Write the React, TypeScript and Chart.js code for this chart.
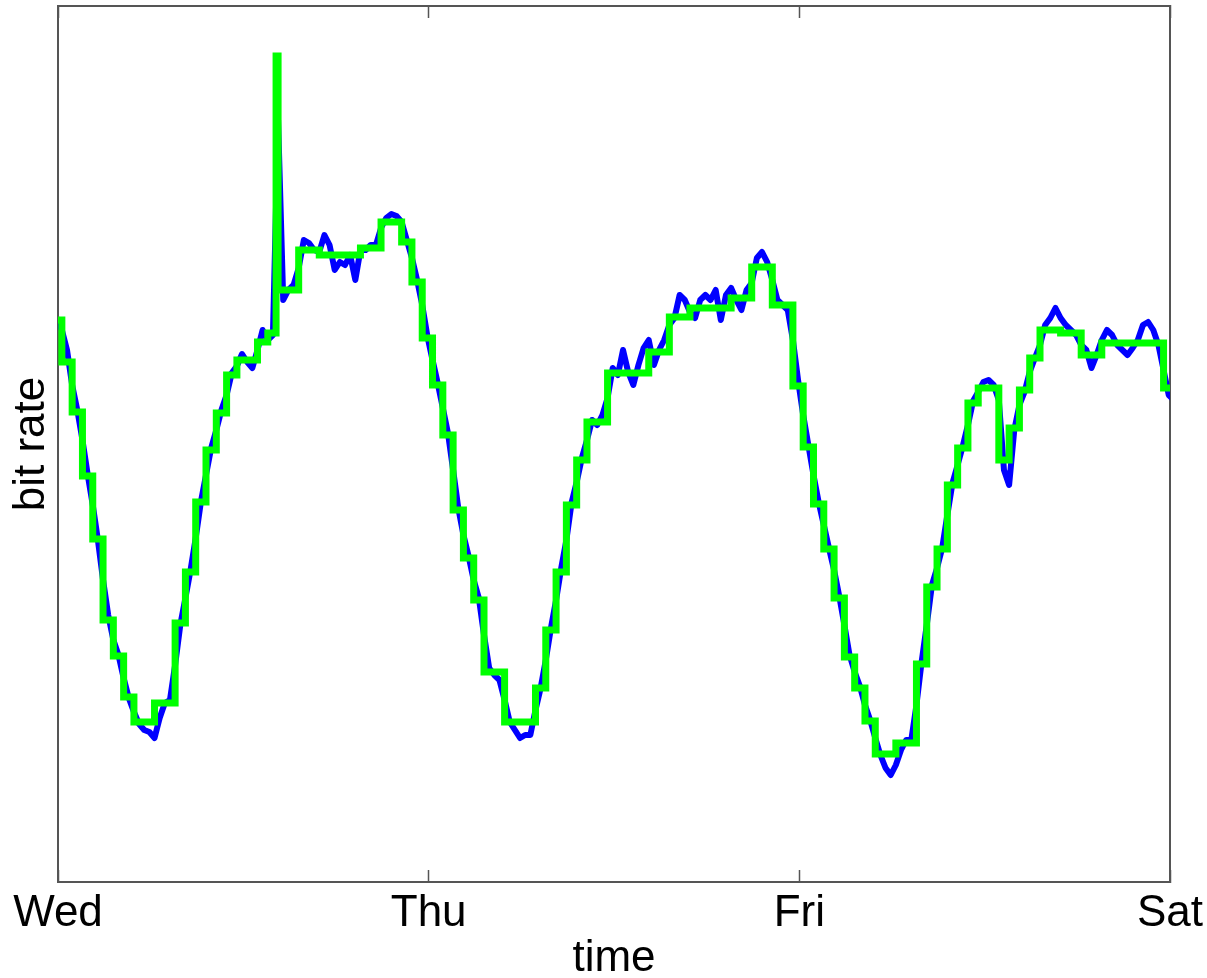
import React, { useEffect, useRef } from "react";
import { Chart, registerables } from "chart.js";

Chart.register(...registerables);

// ---- data (bit rate in arbitrary units, time in hours from Wed 00:00) ----
const dayLabels = ["Wed", "Thu", "Fri", "Sat"];
const totalHours = 72;
const stepHours = 2 / 3; // 40-minute windows of the step (green) series
const firstEdge = 0.25; // first window edge, hours

// green: one value per 40-minute window
const greenValues = [
  562, 520, 470, 406, 343, 262, 226, 185, 160, 160,
  179, 179, 259, 310, 380, 432, 469, 507, 522, 522,
  540, 549, 592, 592, 632, 632, 627, 627, 627, 627,
  634, 634, 660, 660, 640, 600, 544, 497, 447, 372,
  324, 282, 210, 210, 160, 160, 160, 194, 252, 310,
  377, 422, 460, 460, 509, 509, 509, 509, 530, 530,
  565, 565, 574, 574, 574, 574, 584, 584, 615, 615,
  577, 577, 496, 435, 378, 333, 284, 225, 194, 161,
  128, 128, 139, 139, 218, 295, 333, 397, 434, 479,
  494, 494, 422, 454, 492, 524, 552, 552, 549, 549,
  527, 527, 539, 539, 539, 539, 539, 539, 494,
];
// short outlier window of the green series (Wed afternoon)
const spikeIndex = 22;
const spikeStart = 14.12;
const spikeValue = 826;

// blue: raw rate, sampled at the middle and at the right edge of every window
const blueMid = [
  564, 532, 472, 408, 342, 267, 227, 184, 158, 150,
  164, 182, 257, 312, 380, 434, 472, 509, 528, 514,
  552, 547, 582, 597, 642, 632, 647, 612, 617, 602,
  632, 637, 664, 666, 642, 602, 546, 499, 449, 374,
  326, 284, 214, 202, 160, 144, 147, 194, 254, 314,
  379, 424, 462, 467, 514, 532, 497, 534, 517, 542,
  564, 582, 564, 587, 592, 587, 582, 592, 624, 620,
  582, 572, 502, 437, 380, 334, 286, 227, 196, 162,
  127, 107, 132, 142, 220, 297, 334, 399, 436, 481,
  500, 497, 412, 452, 490, 524, 557, 574, 557, 547,
  532, 527, 552, 537, 527, 542, 560, 537, 487,
];
const blueEdge = [
  552, 497, 442, 377, 302, 242, 204, 170, 152, 144,
  179, 217, 284, 344, 407, 452, 487, 516, 520, 532,
  542, 762, 592, 614, 639, 630, 637, 620, 627, 632,
  637, 654, 668, 660, 624, 577, 522, 474, 412, 347,
  302, 247, 207, 182, 152, 147, 172, 222, 282, 342,
  400, 442, 457, 484, 507, 510, 517, 542, 532, 557,
  587, 570, 582, 582, 562, 594, 572, 599, 630, 602,
  577, 542, 467, 407, 357, 312, 257, 210, 177, 144,
  114, 117, 142, 177, 257, 314, 367, 417, 457, 490,
  502, 482, 397, 477, 510, 537, 564, 564, 552, 537,
  514, 542, 547, 532, 534, 557, 552, 512, 482,
];
const yMin = 0;
const yMax = 876;

// ---- styling ----
const FONT = "'Liberation Sans', Arial, Helvetica, sans-serif";
const FRAME = "#555555";
const W = 1207;
const H = 978;

function buildGreen() {
  const pts: { x: number; y: number }[] = [];
  greenValues.forEach((v, j) => {
    if (j === spikeIndex) pts.push({ x: spikeStart, y: spikeValue });
    pts.push({ x: firstEdge + (j - 1) * stepHours, y: v });
  });
  pts.push({ x: firstEdge + (greenValues.length - 1) * stepHours, y: greenValues[greenValues.length - 1] });
  return pts;
}

function buildBlue() {
  const pts: { x: number; y: number }[] = [];
  blueMid.forEach((v, j) => {
    pts.push({ x: firstEdge + (j - 0.5) * stepHours, y: v });
    pts.push({ x: firstEdge + j * stepHours, y: blueEdge[j] });
  });
  return pts;
}

export default function App() {
  const ref = useRef<HTMLCanvasElement | null>(null);

  useEffect(() => {
    if (!ref.current) return;
    const chart = new Chart(ref.current, {
      type: "line",
      data: {
        datasets: [
          {
            data: buildGreen(),
            borderColor: "#00ff00",
            borderWidth: 7,
            stepped: "before",
            pointRadius: 0,
            borderJoinStyle: "miter",
            borderCapStyle: "butt",
            clip: 0,
            fill: false,
          },
          {
            data: buildBlue(),
            borderColor: "#0000ff",
            borderWidth: 6,
            pointRadius: 0,
            tension: 0,
            borderJoinStyle: "round",
            clip: 0,
            fill: false,
          },
        ],
      },
      options: {
        animation: false,
        responsive: false,
        devicePixelRatio: 1,
        events: [],
        layout: { padding: 0 },
        plugins: { legend: { display: false }, tooltip: { enabled: false } },
        scales: {
          x: {
            type: "linear",
            position: "bottom",
            min: 0,
            max: totalHours,
            afterFit: (s: any) => {
              s.height = 96;
            },
            ticks: {
              stepSize: 24,
              autoSkip: false,
              maxRotation: 0,
              padding: 0,
              color: "#000",
              font: { family: FONT, size: 44, lineHeight: 2 },
              callback: (v: any) => (Number(v) % 24 === 0 ? dayLabels[Math.round(Number(v) / 24)] : ""),
            },
            grid: {
              display: true,
              drawOnChartArea: false,
              drawTicks: true,
              tickLength: -12,
              tickColor: FRAME,
              tickWidth: 1.5,
              color: FRAME,
            },
            border: { display: true, color: FRAME, width: 2 },
            title: {
              display: true,
              text: "time",
              color: "#000",
              font: { family: FONT, size: 44 },
              padding: { top: 0, bottom: -7 },
            },
          },
          x2: {
            type: "linear",
            position: "top",
            min: 0,
            max: totalHours,
            afterFit: (s: any) => {
              s.height = 6;
            },
            ticks: { display: false, stepSize: 24 },
            grid: {
              display: true,
              drawOnChartArea: false,
              drawTicks: true,
              tickLength: -12,
              tickColor: FRAME,
              tickWidth: 1.5,
              color: FRAME,
            },
            border: { display: true, color: FRAME, width: 2 },
          },
          y: {
            type: "linear",
            position: "left",
            min: yMin,
            max: yMax,
            afterFit: (s: any) => {
              s.width = 58;
            },
            ticks: { display: false },
            grid: { display: true, drawOnChartArea: false, drawTicks: false },
            border: { display: true, color: FRAME, width: 2 },
            title: {
              display: true,
              text: "bit rate",
              color: "#000",
              font: { family: FONT, size: 44 },
              padding: { top: 5, bottom: 0 },
            },
          },
          y2: {
            type: "linear",
            position: "right",
            min: yMin,
            max: yMax,
            afterFit: (s: any) => {
              s.width = 37;
            },
            ticks: { display: false },
            grid: { display: true, drawOnChartArea: false, drawTicks: false },
            border: { display: true, color: FRAME, width: 2 },
          },
        },
      },
    });
    return () => chart.destroy();
  }, []);

  return (
    <div style={{ position: "absolute", left: 0, top: 0, width: W, height: H, background: "#fff" }}>
      <canvas ref={ref} width={W} height={H} style={{ display: "block", width: W, height: H }} />
    </div>
  );
}
